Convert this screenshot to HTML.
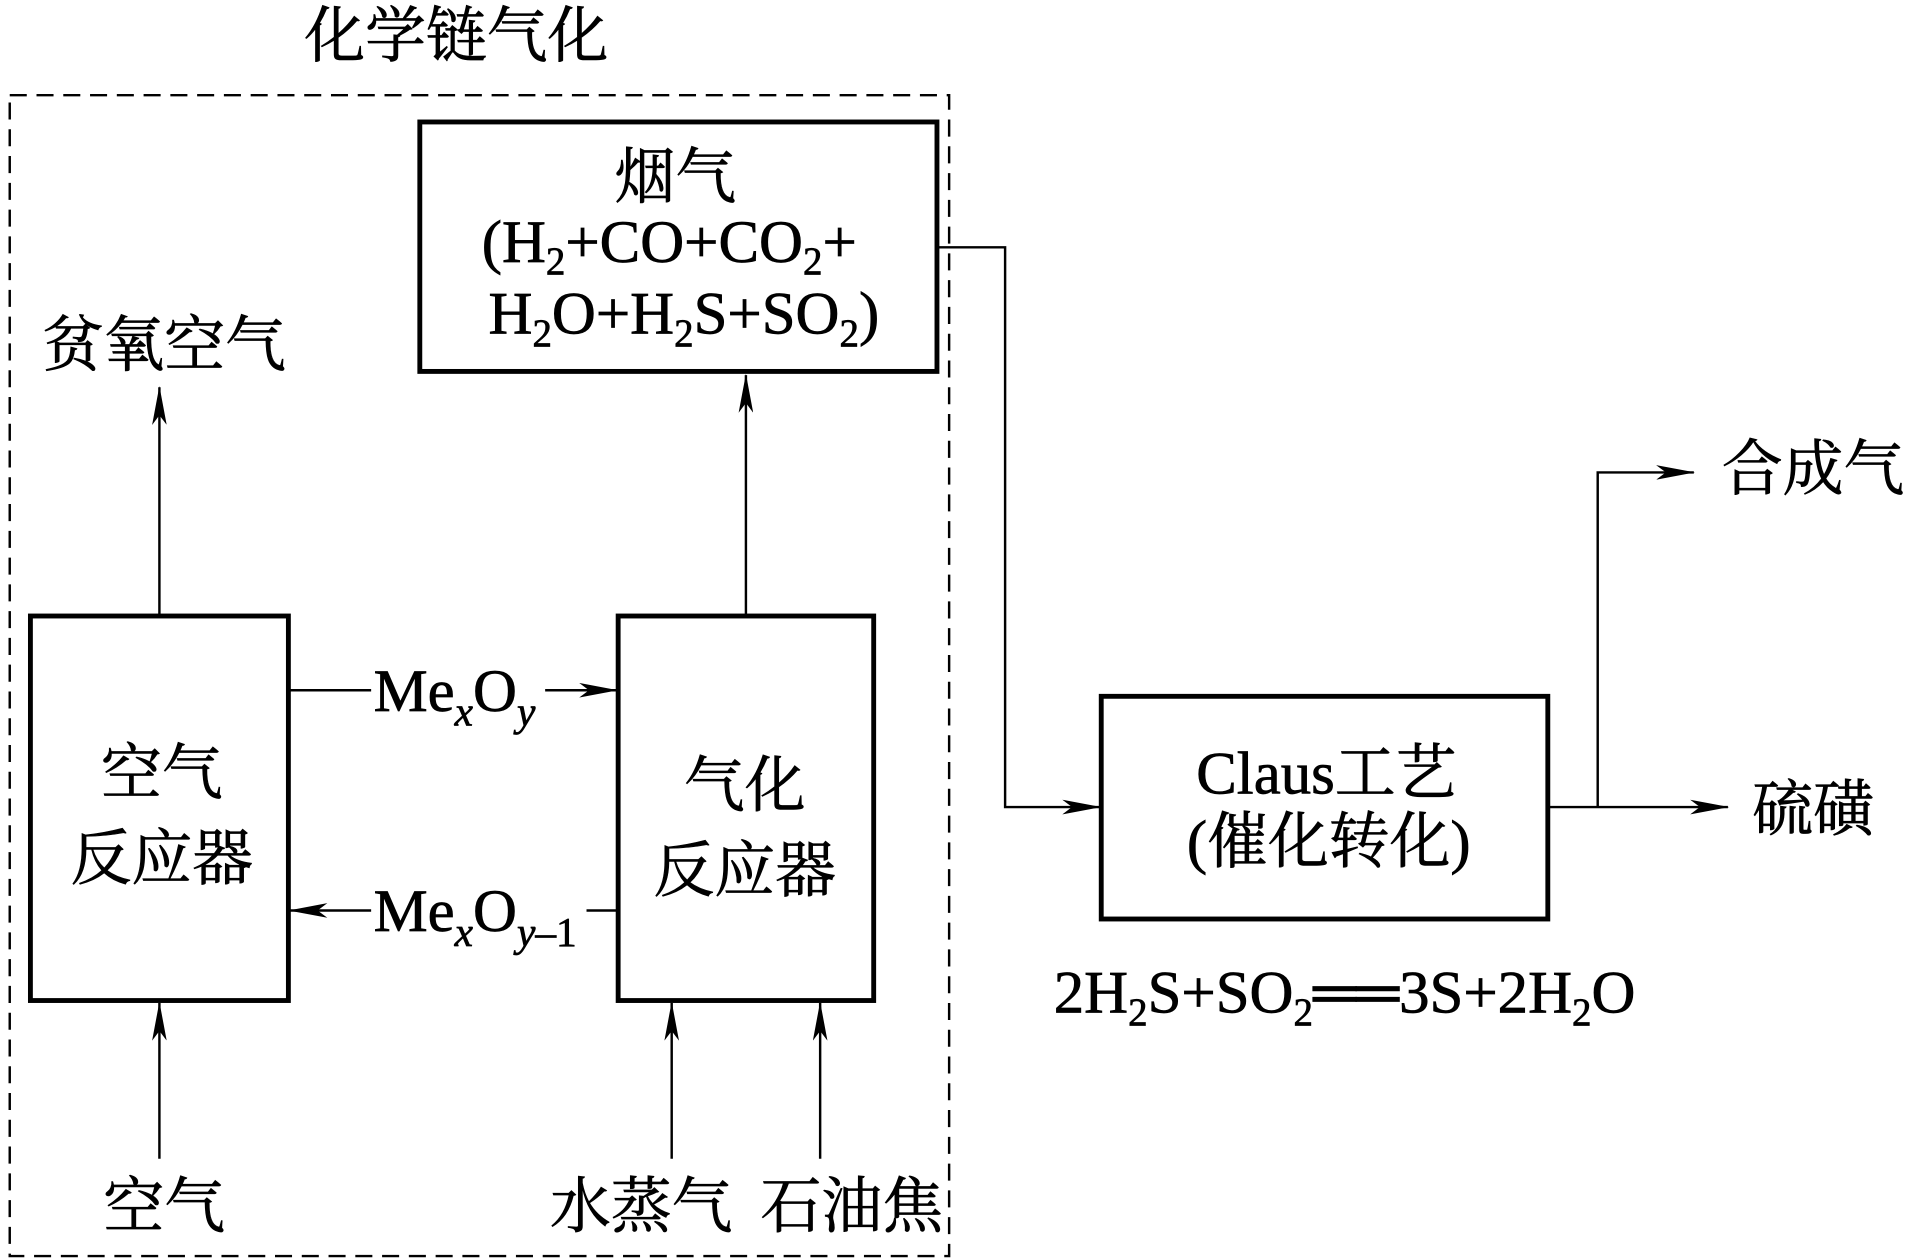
<!DOCTYPE html>
<html><head><meta charset="utf-8"><style>
html,body{margin:0;padding:0;background:#fff;}
svg{display:block;}
text{font-family:"Liberation Serif","Noto Serif CJK SC","Noto Sans CJK SC",serif;fill:#000;stroke:#000;stroke-width:0.6;font-size:50px;}
</style></head><body>
<svg width="1908" height="1260" viewBox="0 0 1568 1035" xmlns="http://www.w3.org/2000/svg">
<defs>
<marker id="a" markerWidth="32" markerHeight="12" refX="31" refY="6" orient="auto" markerUnits="userSpaceOnUse">
<path d="M0,0 L32,6 L0,12 L8,6 Z" fill="#000"/>
</marker>
</defs>
<g fill="none" stroke="#000">
<rect x="8" y="78" width="772" height="954" stroke-width="2" stroke-dasharray="14,8"/>
<rect x="345" y="100" width="425" height="205" stroke-width="4"/>
<rect x="25" y="506" width="212" height="316" stroke-width="4"/>
<rect x="508" y="506" width="210" height="316" stroke-width="4"/>
<rect x="905" y="572" width="367" height="183" stroke-width="4"/>
<g stroke-width="2">
<line x1="131" y1="505" x2="131" y2="318" marker-end="url(#a)"/>
<line x1="613" y1="505" x2="613" y2="308" marker-end="url(#a)"/>
<line x1="131" y1="952" x2="131" y2="824" marker-end="url(#a)"/>
<line x1="552" y1="952" x2="552" y2="824" marker-end="url(#a)"/>
<line x1="674" y1="952" x2="674" y2="824" marker-end="url(#a)"/>
<line x1="237" y1="567" x2="305" y2="567"/>
<line x1="448" y1="567" x2="507" y2="567" marker-end="url(#a)"/>
<line x1="305" y1="748" x2="238" y2="748" marker-end="url(#a)"/>
<line x1="482" y1="748" x2="508" y2="748"/>
<polyline points="770,203 826,203 826,663 904,663" marker-end="url(#a)"/>
<line x1="1272" y1="663" x2="1420" y2="663" marker-end="url(#a)"/>
<polyline points="1313,663 1313,388 1392,388" marker-end="url(#a)"/>
</g>
</g>
<text x="375" y="46" text-anchor="middle">化学链气化</text>
<text x="555" y="162" text-anchor="middle">烟气</text>
<text x="550" y="215" text-anchor="middle">(H<tspan font-size="32" dy="10">2</tspan><tspan dy="-10">+CO+CO</tspan><tspan font-size="32" dy="10">2</tspan><tspan dy="-10">+</tspan></text>
<text x="562" y="274" text-anchor="middle">H<tspan font-size="32" dy="10">2</tspan><tspan dy="-10">O+H</tspan><tspan font-size="32" dy="10">2</tspan><tspan dy="-10">S+SO</tspan><tspan font-size="32" dy="10">2</tspan><tspan dy="-10">)</tspan></text>
<text x="135" y="300" text-anchor="middle">贫氧空气</text>
<text x="133" y="652" text-anchor="middle">空气</text>
<text x="133" y="722" text-anchor="middle">反应器</text>
<text x="612" y="662" text-anchor="middle">气化</text>
<text x="612" y="732" text-anchor="middle">反应器</text>
<text x="307" y="584">Me<tspan font-size="34" font-style="italic" dy="12">x</tspan><tspan dy="-12">O</tspan><tspan font-size="34" font-style="italic" dy="12">y</tspan></text>
<text x="307" y="765">Me<tspan font-size="34" font-style="italic" dy="12">x</tspan><tspan dy="-12">O</tspan><tspan font-size="34" font-style="italic" dy="12">y</tspan><tspan font-size="34">–1</tspan></text>
<text x="135" y="1008" text-anchor="middle">空气</text>
<text x="527" y="1008" text-anchor="middle">水蒸气</text>
<text x="700" y="1008" text-anchor="middle">石油焦</text>
<text x="1090" y="652" text-anchor="middle">Claus工艺</text>
<text x="1092" y="708" text-anchor="middle">(催化转化)</text>
<text x="1490" y="402" text-anchor="middle">合成气</text>
<text x="1490" y="682" text-anchor="middle">硫磺</text>
<text x="1105" y="832" text-anchor="middle">2H<tspan font-size="32" dy="10">2</tspan><tspan dy="-10">S+SO</tspan><tspan font-size="32" dy="10">2</tspan><tspan dy="-10">══3S+2H</tspan><tspan font-size="32" dy="10">2</tspan><tspan dy="-10">O</tspan></text>
</svg>
</body></html>
